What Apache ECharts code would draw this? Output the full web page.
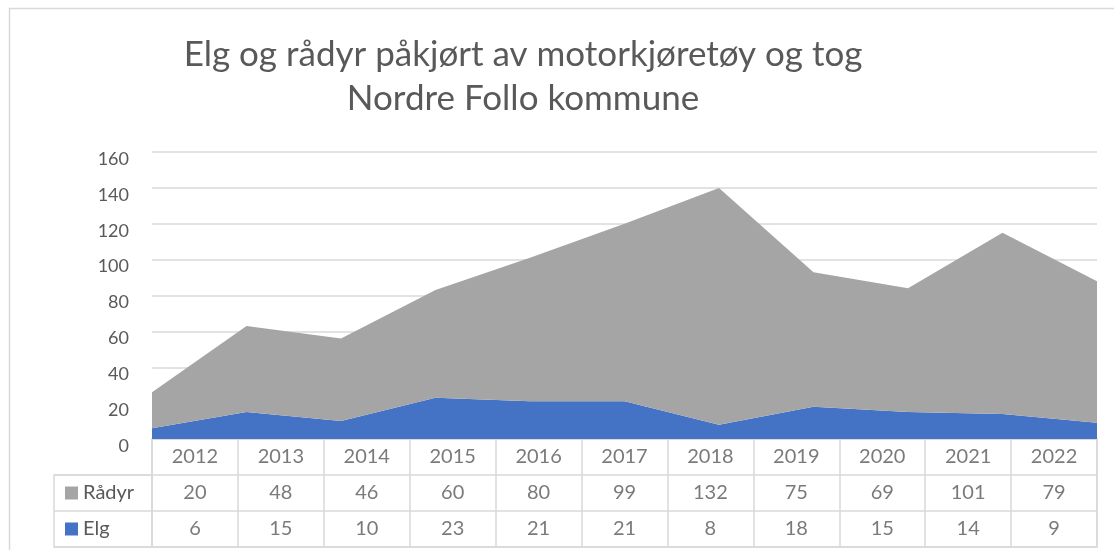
<!DOCTYPE html>
<html>
<head>
<meta charset="utf-8">
<script src="https://cdn.jsdelivr.net/npm/echarts@6/dist/echarts.min.js"></script>
<style>
  html, body { margin: 0; padding: 0; background: #fff; }
  #chart-container { width: 1114px; height: 550px; }
</style>
</head>
<body>
<div id="chart-container"></div>
<script>
// data
const years = ['2012', '2013', '2014', '2015', '2016', '2017', '2018', '2019', '2020', '2021', '2022'];
const radyr = [20, 48, 46, 60, 80, 99, 132, 75, 69, 101, 79];
const elg = [6, 15, 10, 23, 21, 21, 8, 18, 15, 14, 9];
const yTicks = { min: 0, max: 160, interval: 20 };

const GRAY = '#A5A5A5';
const BLUE = '#4472C4';
const TEXT = '#595959';
const LINE = '#D9D9D9';
const FONT = 'Lato, "Open Sans", sans-serif';

// cells of the data table: [column, row, text]
const tableCells = [];
years.forEach((y, i) => {
	tableCells.push([i, 0, y]);
	tableCells.push([i, 1, String(radyr[i])]);
	tableCells.push([i, 2, String(elg[i])]);
});

const myChart = echarts.init(document.getElementById('chart-container'));
const option = {
	animation: false,
	textStyle: { fontFamily: FONT },
	title: {
		text: 'Elg og rådyr påkjørt av motorkjøretøy og tog\nNordre Follo kommune',
		left: 518,
		top: 28,
		textAlign: 'center',
		textStyle: {
			fontFamily: FONT,
			fontSize: 35,
			fontWeight: 'normal',
			color: TEXT,
			lineHeight: 44
		}
	},
	graphic: [{
		// chart frame
		type: 'rect',
		shape: { x: 9.5, y: 8.5, width: 1200, height: 600 },
		style: { fill: 'none', stroke: LINE, lineWidth: 1.5 },
		silent: true
	}],
	grid: [
		// area plot
		{ left: 152, right: 17, top: 152, height: 287 },
		// table values
		{ left: 152, right: 17, top: 439, height: 108, show: true, borderColor: LINE, borderWidth: 1.5 },
		// legend column
		{ left: 54, width: 98, top: 475, height: 72, show: true, borderColor: LINE, borderWidth: 1.5 }
	],
	xAxis: [
		{
			gridIndex: 0,
			type: 'category',
			data: years,
			boundaryGap: false,
			axisLine: { lineStyle: { color: LINE, width: 1.5 } },
			axisTick: { show: false },
			axisLabel: { show: false }
		},
		{
			gridIndex: 1,
			type: 'category',
			data: years,
			boundaryGap: true,
			axisLine: { show: false },
			axisTick: { show: false },
			axisLabel: { show: false },
			splitLine: { show: true, interval: 0, lineStyle: { color: LINE, width: 1.5 } }
		},
		{
			gridIndex: 2,
			type: 'value',
			show: false
		}
	],
	yAxis: [
		{
			gridIndex: 0,
			type: 'value',
			min: yTicks.min,
			max: yTicks.max,
			interval: yTicks.interval,
			axisLine: { show: false },
			axisTick: { show: false },
			axisLabel: {
				margin: 23,
				formatter: v => '{a|' + v + '}',
				rich: { a: { color: TEXT, fontSize: 18, fontFamily: FONT, padding: [14, 0, 0, 0] } }
			},
			splitLine: { lineStyle: { color: LINE, width: 1.5 } }
		},
		{
			gridIndex: 1,
			type: 'category',
			inverse: true,
			data: ['', 'Rådyr', 'Elg'],
			axisLine: { show: false },
			axisTick: { show: false },
			axisLabel: { show: false },
			splitLine: { show: true, interval: 0, lineStyle: { color: LINE, width: 1.5 } }
		},
		{
			gridIndex: 2,
			type: 'category',
			inverse: true,
			data: ['Rådyr', 'Elg'],
			axisLine: { show: false },
			axisTick: { show: false },
			splitLine: { show: true, interval: 0, lineStyle: { color: LINE, width: 1.5 } },
			axisLabel: {
				inside: true,
				margin: 11,
				formatter: v => (v === 'Elg' ? '{b|}' : '{g|}') + '{t|' + v + '}',
				rich: {
					g: { width: 13, height: 13, backgroundColor: GRAY },
					b: { width: 13, height: 13, backgroundColor: BLUE },
					t: { fontSize: 20, color: TEXT, padding: [0, 0, 0, 5], fontFamily: FONT }
				}
			}
		}
	],
	series: [
		{
			name: 'Elg',
			type: 'line',
			stack: 'total',
			xAxisIndex: 0,
			yAxisIndex: 0,
			data: elg,
			symbol: 'none',
			lineStyle: { width: 0 },
			areaStyle: { color: BLUE, opacity: 1 },
			itemStyle: { color: BLUE }
		},
		{
			name: 'Rådyr',
			type: 'line',
			stack: 'total',
			xAxisIndex: 0,
			yAxisIndex: 0,
			data: radyr,
			symbol: 'none',
			lineStyle: { width: 0 },
			areaStyle: { color: GRAY, opacity: 1 },
			itemStyle: { color: GRAY }
		},
		{
			name: 'table',
			type: 'scatter',
			xAxisIndex: 1,
			yAxisIndex: 1,
			data: tableCells,
			symbolSize: 1,
			itemStyle: { color: 'rgba(0,0,0,0)' },
			label: {
				show: true,
				position: 'inside',
				formatter: p => p.value[2],
				fontSize: 20,
				color: TEXT,
				fontFamily: FONT
			},
			silent: true
		}
	]
};

myChart.setOption(option);
</script>
</body>
</html>
